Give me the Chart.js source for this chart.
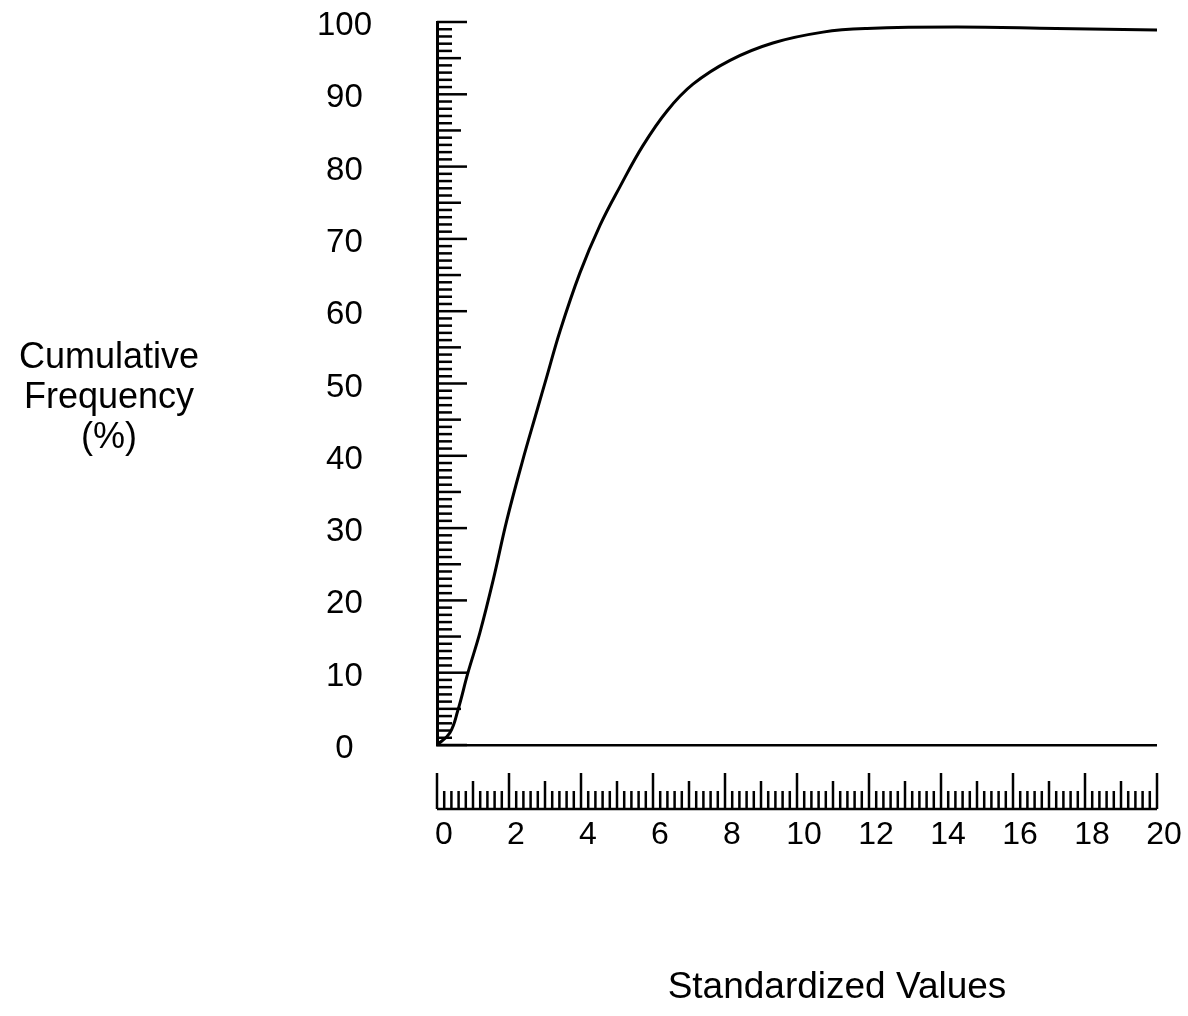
<!DOCTYPE html>
<html>
<head>
<meta charset="utf-8">
<title>Cumulative Frequency</title>
<script src="https://cdn.jsdelivr.net/npm/chart.js@4.4.1/dist/chart.umd.min.js"></script>
<style>
  html, body { margin: 0; padding: 0; background: #fff; }
  #chart { display: block; }
</style>
</head>
<body>
<canvas id="chart" width="1188" height="1016"></canvas>
<script>
// values
const standardized = [0, 0.36, 0.58, 0.86, 1.19, 1.56, 1.94, 2.36, 2.78, 3.03, 3.42, 3.97, 4.53, 5.08, 5.72, 6.39, 7.11, 8.14, 9.33, 10.72, 11.94, 14.44, 17.2, 20];
const cumFreq = [0, 1.7, 4.8, 10.0, 15.5, 22.8, 31.1, 39.0, 46.3, 50.6, 57.3, 65.3, 71.9, 77.2, 82.9, 87.7, 91.4, 94.7, 97.1, 98.6, 99.1, 99.3, 99.1, 98.9];
const yTitleLines = ['Cumulative', 'Frequency', '(%)'];
const xTitle = 'Standardized Values';

const FONT = "'Liberation Sans', Arial, Helvetica, sans-serif";
const CLEAR = 'rgba(0,0,0,0)';

// draws the ruler-like tick marks and both axis titles
const rulerPlugin = {
  id: 'rulers',
  afterDraw(chart) {
    const ctx = chart.ctx;
    const xs = chart.scales.x;
    const ys = chart.scales.y;
    const area = chart.chartArea;
    ctx.save();
    ctx.strokeStyle = '#000';
    ctx.lineWidth = 2.5;

    // y ruler: ticks pointing right from the axis
    for (let v = 0; v <= 100; v++) {
      let len = 15;
      if (v % 10 === 0) len = 30;
      else if (v % 5 === 0) len = 24;
      const py = ys.getPixelForValue(v);
      ctx.beginPath();
      ctx.moveTo(area.left, py);
      ctx.lineTo(area.left + len, py);
      ctx.stroke();
    }

    // x ruler below the plot, ticks pointing up
    const baseY = area.bottom + 64;
    ctx.beginPath();
    ctx.moveTo(xs.getPixelForValue(0), baseY);
    ctx.lineTo(xs.getPixelForValue(20), baseY);
    ctx.stroke();
    for (let i = 0; i <= 100; i++) {
      const v = i / 5;
      let len = 18;
      if (i % 10 === 0) len = 36;
      else if (i % 5 === 0) len = 28;
      const px = xs.getPixelForValue(v);
      ctx.beginPath();
      ctx.moveTo(px, baseY);
      ctx.lineTo(px, baseY - len);
      ctx.stroke();
    }

    // axis titles
    ctx.fillStyle = '#000';
    ctx.font = '36px ' + FONT;
    ctx.textAlign = 'center';
    ctx.textBaseline = 'middle';
    const cx = area.left - 328;
    const cy = ys.getPixelForValue(48);
    yTitleLines.forEach((t, i) => {
      ctx.fillText(t, cx, cy + (i - 1) * 40);
    });
    ctx.font = '37px ' + FONT;
    ctx.fillText(xTitle, area.left + 400, 988);
    ctx.restore();
  }
};

new Chart(document.getElementById('chart'), {
  type: 'line',
  data: {
    datasets: [{
      data: standardized.map((x, i) => ({ x: x, y: cumFreq[i] })),
      borderColor: '#000',
      borderWidth: 3,
      pointRadius: 0,
      fill: false,
      tension: 0.4
    }]
  },
  options: {
    responsive: false,
    animation: false,
    layout: { padding: { top: 22, right: 31, bottom: 0, left: 0 } },
    plugins: { legend: { display: false }, tooltip: { enabled: false } },
    scales: {
      x: {
        type: 'linear',
        min: 0,
        max: 20,
        border: { display: false },
        grid: { drawOnChartArea: false, drawTicks: true, tickLength: 69, tickColor: CLEAR, color: CLEAR },
        ticks: {
          stepSize: 2,
          padding: 2,
          labelOffset: 7,
          color: '#000',
          font: { family: FONT, size: 32 }
        },
        afterFit(scale) { scale.height = 271; }
      },
      y: {
        min: 0,
        max: 100,
        border: { display: true, color: '#000', width: 3 },
        grid: {
          drawTicks: true,
          tickLength: 63,
          tickColor: CLEAR,
          lineWidth: 2.5,
          color: (c) => (c.tick && c.tick.value === 0 ? '#000' : CLEAR)
        },
        ticks: {
          stepSize: 10,
          padding: 2,
          labelOffset: 4,
          crossAlign: 'center',
          color: '#000',
          font: { family: FONT, size: 33 }
        },
        afterFit(scale) { scale.width = 437; }
      }
    }
  },
  plugins: [rulerPlugin]
});
</script>
</body>
</html>
